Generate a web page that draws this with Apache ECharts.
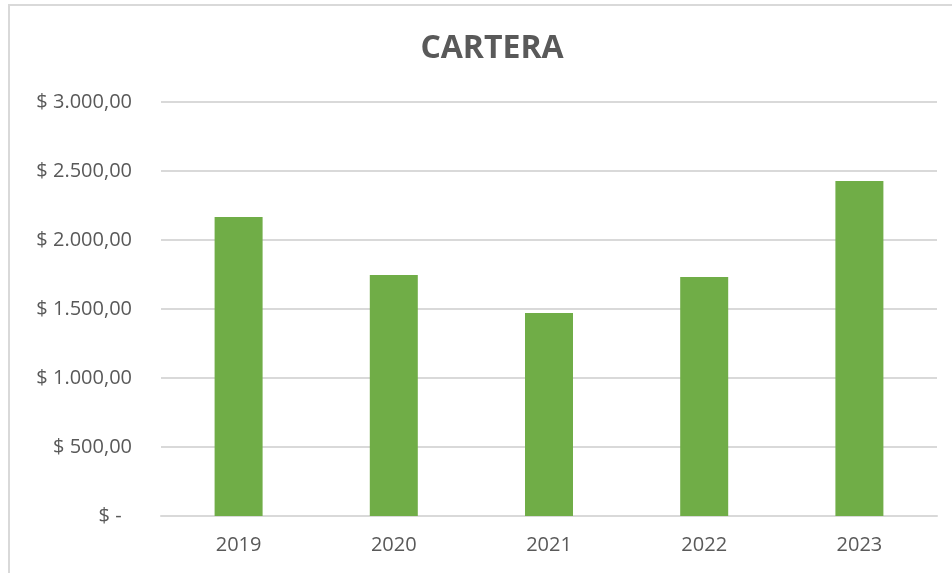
<!DOCTYPE html>
<html>
<head>
<meta charset="utf-8">
<script src="https://cdn.jsdelivr.net/npm/echarts@6/dist/echarts.min.js"></script>
<style>
  html, body { margin: 0; padding: 0; background: #fff; }
  #chart { width: 952px; height: 573px; }
</style>
</head>
<body>
<div id="chart"></div>
<script>
  const years = ['2019', '2020', '2021', '2022', '2023'];
  const cartera = [2167, 1746, 1471, 1732, 2428];
  const yTicks = [0, 500, 1000, 1500, 2000, 2500, 3000];

  // formato contable: $ 1.500,00 / $ -
  const fmt = (v) => {
    if (v === 0) return '$ -  ';
    const parts = v.toFixed(2).split('.');
    const ent = parts[0].replace(/\B(?=(\d{3})+(?!\d))/g, '.');
    return '$ ' + ent + ',' + parts[1];
  };

  const chart = echarts.init(document.getElementById('chart'));
  chart.setOption({
    animation: false,
    title: {
      text: 'CARTERA',
      left: 487,
      top: 28,
      textAlign: 'center',
      textStyle: { fontFamily: 'Open Sans', fontSize: 32, fontWeight: 'bold', color: '#595959' }
    },
    graphic: [{
      type: 'rect',
      shape: { x: 9, y: 5, width: 1100, height: 1000 },
      style: { fill: 'none', stroke: '#d9d9d9', lineWidth: 2 },
      silent: true
    }],
    grid: { left: 161, right: 15, top: 102, bottom: 57 },
    xAxis: {
      type: 'category',
      data: years,
      axisLine: { lineStyle: { color: '#d9d9d9', width: 2 } },
      axisTick: { show: false },
      axisLabel: { margin: 19, fontFamily: 'Open Sans', fontSize: 20, color: '#595959' }
    },
    yAxis: {
      type: 'value',
      min: yTicks[0],
      max: yTicks[yTicks.length - 1],
      interval: 500,
      axisLine: { show: false },
      axisTick: { show: false },
      splitLine: { lineStyle: { color: '#d9d9d9', width: 2 } },
      axisLabel: { margin: 29, fontFamily: 'Open Sans', fontSize: 20, color: '#595959', formatter: fmt }
    },
    series: [{
      type: 'bar',
      data: cartera,
      barWidth: 48,
      itemStyle: { color: '#70ad47' }
    }]
  });
</script>
</body>
</html>
